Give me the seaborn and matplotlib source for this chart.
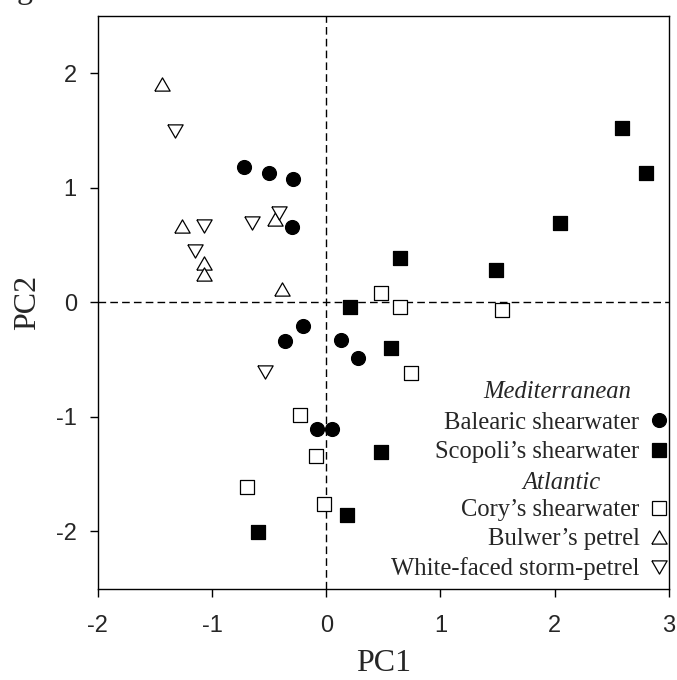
import matplotlib
matplotlib.use("Agg")
import matplotlib.pyplot as plt
import numpy as np
import pandas as pd
import seaborn as sns
from matplotlib.lines import Line2D

# species order as in the legend
species = [
    "Balearic shearwater",
    "Scopoli\u2019s shearwater",
    "Cory\u2019s shearwater",
    "Bulwer\u2019s petrel",
    "White-faced storm-petrel",
]

balearic_pc1 = [-0.72, -0.50, -0.29, -0.30, -0.20, -0.36, 0.13, 0.28, -0.08, 0.05]
balearic_pc2 = [1.18, 1.13, 1.08, 0.66, -0.21, -0.34, -0.33, -0.49, -1.11, -1.11]

scopoli_pc1 = [2.59, 2.80, 2.05, 0.65, 1.49, 0.21, 0.57, 0.48, 0.18, -0.60]
scopoli_pc2 = [1.52, 1.13, 0.69, 0.39, 0.28, -0.04, -0.40, -1.31, -1.86, -2.01]

cory_pc1 = [0.48, 0.65, 1.54, 0.74, -0.23, -0.09, -0.69, -0.02]
cory_pc2 = [0.08, -0.04, -0.07, -0.62, -0.98, -1.34, -1.61, -1.76]

bulwer_pc1 = [-1.44, -1.26, -1.07, -1.07, -0.45, -0.39]
bulwer_pc2 = [1.91, 0.67, 0.34, 0.25, 0.73, 0.12]

whitefaced_pc1 = [-1.32, -1.07, -1.15, -0.65, -0.41, -0.54]
whitefaced_pc2 = [1.50, 0.67, 0.45, 0.69, 0.78, -0.61]

# flatter, equilateral-looking triangles like the original
tri_up = [(-1, -0.866), (1, -0.866), (0, 0.866), (-1, -0.866)]
tri_down = [(-1, 0.866), (1, 0.866), (0, -0.866), (-1, 0.866)]

markers = {
    species[0]: "o",
    species[1]: "s",
    species[2]: "s",
    species[3]: tri_up,
    species[4]: tri_down,
}
facecolors = {
    species[0]: "black",
    species[1]: "black",
    species[2]: "white",
    species[3]: "white",
    species[4]: "white",
}
marker_pts = {
    species[0]: 10,
    species[1]: 10,
    species[2]: 10,
    species[3]: 11,
    species[4]: 11,
}


def build_frame() -> pd.DataFrame:
    parts = []
    for name, xs, ys in zip(
        species,
        [balearic_pc1, scopoli_pc1, cory_pc1, bulwer_pc1, whitefaced_pc1],
        [balearic_pc2, scopoli_pc2, cory_pc2, bulwer_pc2, whitefaced_pc2],
    ):
        parts.append(pd.DataFrame({"PC1": xs, "PC2": ys, "species": name}))
    return pd.concat(parts, ignore_index=True)


sns.set_theme(style="ticks")
plt.rcParams["font.family"] = ["Liberation Serif", "DejaVu Serif"]
plt.rcParams["axes.unicode_minus"] = False

df = build_frame()

fig = plt.figure(figsize=(6.77, 6.80), dpi=100)
ax = fig.add_axes([0.1443, 0.1344, 0.8439, 0.8421])

ax.axhline(0, color="black", lw=1.0, ls=(0, (5.5, 3)), zorder=1)
ax.axvline(0, color="black", lw=1.0, ls=(0, (5.5, 3)), zorder=1)

for name in species:
    sns.scatterplot(
        data=df[df["species"] == name],
        x="PC1",
        y="PC2",
        marker=markers[name],
        color=facecolors[name],
        s=marker_pts[name] ** 2,
        edgecolor="black",
        linewidth=0.9,
        legend=False,
        zorder=3,
        ax=ax,
    )

ax.set_xlim(-2, 3)
ax.set_ylim(-2.5, 2.5)
ax.set_xticks([-2, -1, 0, 1, 2, 3])
ax.set_yticks([-2, -1, 0, 1, 2])
ax.tick_params(axis="both", direction="out", length=6, width=1, color="black",
               labelsize=17)
ax.tick_params(axis="x", pad=13)
ax.tick_params(axis="y", pad=9)
for lab in ax.get_xticklabels() + ax.get_yticklabels():
    lab.set_fontfamily("Liberation Sans")
for sp in ax.spines.values():
    sp.set_color("black")
    sp.set_linewidth(1.0)

ax.set_xlabel("PC1", fontsize=23, labelpad=9)
ax.set_ylabel("PC2", fontsize=23, labelpad=10)

# legend rows; blank rows hold the italic group headers
leg_size = 17.7
handles = [Line2D([], [], ls="none", label=" ")]
for name in species[:2]:
    handles.append(Line2D([], [], ls="none", marker=markers[name], markersize=marker_pts[name],
                          markerfacecolor=facecolors[name], markeredgecolor="black",
                          markeredgewidth=0.9, label=name))
handles.append(Line2D([], [], ls="none", label=" "))
for name in species[2:]:
    handles.append(Line2D([], [], ls="none", marker=markers[name], markersize=marker_pts[name],
                          markerfacecolor=facecolors[name], markeredgecolor="black",
                          markeredgewidth=0.9, label=name))

ax.legend(handles=handles, loc="lower right", bbox_to_anchor=(0.9955, 0.0145),
          markerfirst=False, frameon=False, fontsize=leg_size, handlelength=0.6,
          handletextpad=0.5, labelspacing=0.28, borderpad=0, borderaxespad=0)

ax.text(0.805, 0.3437, "Mediterranean", style="italic", fontsize=leg_size,
        ha="center", va="center", transform=ax.transAxes)
ax.text(0.811, 0.1848, "Atlantic", style="italic", fontsize=leg_size,
        ha="center", va="center", transform=ax.transAxes)

# panel letter cut by the top edge, as in the source figure
fig.text(0.037, 1.0025, "g", fontsize=23, ha="center", va="baseline")

fig.savefig("out.png", dpi=100)
